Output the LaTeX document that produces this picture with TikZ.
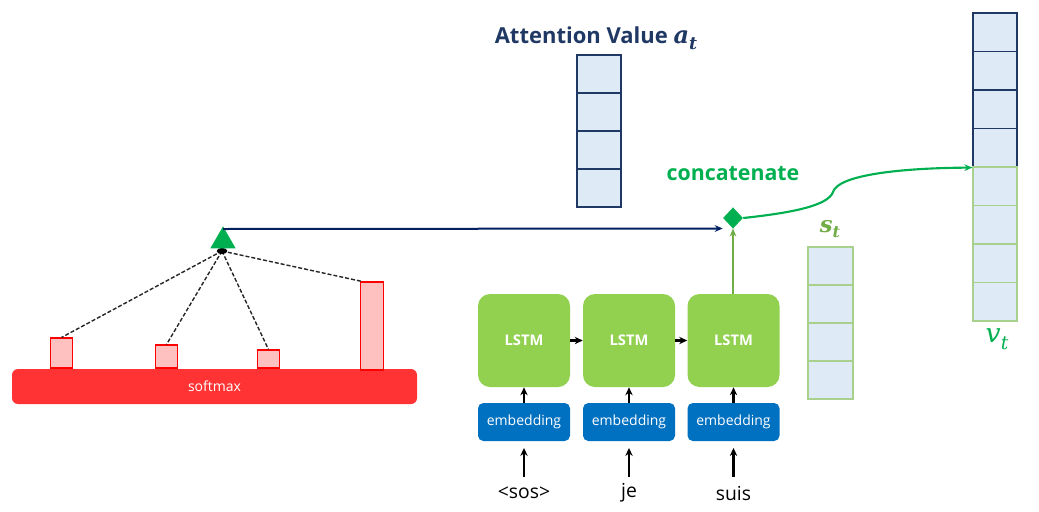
\documentclass[tikz,border=0pt]{standalone}
\usepackage{fontspec}
\setmainfont{Open Sans}
\newfontfamily\symserif{DejaVu Serif}
\usetikzlibrary{arrows.meta,shapes.geometric}
\definecolor{navy}{HTML}{1F3864}
\definecolor{navyline}{HTML}{002060}
\definecolor{cellfill}{HTML}{DEEBF7}
\definecolor{lgreen}{HTML}{A9D18E}
\definecolor{catgreen}{HTML}{00B050}
\definecolor{sgreen}{HTML}{70AD47}
\definecolor{lstmgreen}{HTML}{92D050}
\definecolor{embblue}{HTML}{0070C0}
\definecolor{smred}{HTML}{FF3333}
\definecolor{barfill}{HTML}{FFC0C0}
% bold italic symbol with subscript: #1 base, #2 sub, #3 base size, #4 sub size
\newcommand{\bsym}[4]{{\symserif\bfseries\itshape\fontsize{#3}{#3}\selectfont #1\raisebox{-0.25em}{\fontsize{#4}{#4}\selectfont #2}}}
\newcommand{\isym}[4]{{\symserif\itshape\fontsize{#3}{#3}\selectfont #1\raisebox{-0.25em}{\fontsize{#4}{#4}\selectfont #2}}}
\begin{document}
\begin{tikzpicture}[x=0.75pt,y=-0.75pt,
  navycell/.style={draw=navy,fill=cellfill,line width=0.9pt,minimum width=33pt,minimum height=28.5pt,inner sep=0pt},
  greencell/.style={draw=lgreen,fill=cellfill,line width=0.9pt,minimum width=33pt,minimum height=28.5pt,inner sep=0pt},
  lstmbox/.style={fill=lstmgreen,rounded corners=9pt,minimum width=69pt,minimum height=69.75pt,inner sep=0pt,text=white,font=\bfseries\fontsize{11}{13}\selectfont},
  embbox/.style={fill=embblue,rounded corners=4pt,minimum width=69pt,minimum height=28.5pt,inner sep=0pt,text=white,font=\fontsize{10.5}{12}\selectfont},
  bar/.style={draw=red,fill=barfill,line width=0.8pt,minimum width=17pt,inner sep=0pt},
  word/.style={font=\fontsize{14.5}{16}\selectfont,inner sep=0pt},
  blk/.style={-{Stealth[length=6pt,width=5.5pt]},line width=1.6pt},
  dashline/.style={dashed,line width=1.05pt,black!85,dash pattern=on 3pt off 1.5pt}
]
\useasboundingbox (0,0) rectangle (1039,511);

% softmax
\node[fill=smred,rounded corners=4.5pt,minimum width=303.75pt,minimum height=26.25pt,inner sep=0pt,text=white,font=\fontsize{10.5}{12}\selectfont] (softmax) at (214.5,386.5) {softmax};
\node[bar,minimum height=22.5pt] (b1) at (61.5,353) {};
\node[bar,minimum height=17.25pt] (b2) at (166.5,356.5) {};
\node[bar,minimum height=13.5pt] (b3) at (268.5,359) {};
\node[bar,minimum height=66pt] (b4) at (372,326) {};

% hub
\coordinate (hub) at (222,251);
\draw[dashline] (hub) -- (b1.north);
\draw[dashline] (hub) -- (b2.north);
\draw[dashline] (hub) -- (b3.north);
\draw[dashline] (hub) -- ([xshift=1.5pt]b4.north west);
\fill[black] (hub) ellipse (4pt and 2.3pt);
\node[isosceles triangle,isosceles triangle apex angle=60,shape border rotate=90,fill=catgreen,minimum width=19pt,minimum height=16pt,inner sep=0pt] (tri) at (223,241) {};
\coordinate (triapex) at (223,229);

% concatenate diamond
\node[diamond,fill=catgreen,minimum width=15pt,minimum height=16pt,inner sep=0pt] (cat) at (733,218) {};
\coordinate (catin) at (733,228.5);
\draw[navyline,line width=1.5pt,-{Stealth[length=6pt,width=5pt]}] (triapex) -- (catin -| cat.west);
\node[font=\bfseries\fontsize{16}{18}\selectfont,text=catgreen] (cattext) at (733,174) {concatenate};

% attention value
\node[font=\bfseries\fontsize{16.5}{19}\selectfont,text=navy] (attlabel) at (596,38) {Attention Value \bsym{a}{t}{18}{13}};
\foreach \i/\y in {1/74,2/112,3/150,4/188} \node[navycell] (a\i) at (599,\y) {};

% s_t
\node[text=sgreen] (slabel) at (830,229) {\bsym{s}{t}{17}{12}};
\foreach \i/\y in {1/266,2/304,3/342,4/380} \node[greencell,minimum width=33.75pt] (s\i) at (830.5,\y) {};

% v_t
\foreach \i/\y in {1/32.25,2/70.75,3/109.25,4/147.75} \node[navycell,minimum height=28.875pt] (v\i) at (995,\y) {};
\foreach \i/\y in {5/186.25,6/224.75,7/263.25,8/301.75} \node[greencell,minimum height=28.875pt] (v\i) at (995,\y) {};
\node[text=catgreen] (vlabel) at (997,339) {\isym{v}{t}{20}{14}};
\coordinate (vin) at (v4.south west);

% curve
\draw[catgreen,line width=1.6pt,-{Stealth[length=6pt,width=5pt]}] (cat.east) .. controls (790,213) and (828,206) .. (833,192) .. controls (838,175) and (900,168) .. (vin);

% LSTM chain
\foreach \i/\x/\w in {1/524/{<sos>},2/629/je,3/733.5/suis} {
  \node[lstmbox] (l\i) at (\x,340.5) {LSTM};
  \node[embbox] (e\i) at (\x,422) {embedding};
  \node[word] (w\i) at (\x,493) {\w};
  \draw[blk] (e\i) -- (l\i);
  \coordinate (ws\i) at (\x,477);
  \draw[blk,shorten >=5pt] (ws\i) -- (e\i.south);
}
\draw[blk] (l1) -- (l2);
\draw[blk] (l2) -- (l3);
\draw[sgreen,line width=1.6pt,-{Stealth[length=6pt,width=5pt]}] (l3.north -| catin) -- (catin);
\end{tikzpicture}
\end{document}
